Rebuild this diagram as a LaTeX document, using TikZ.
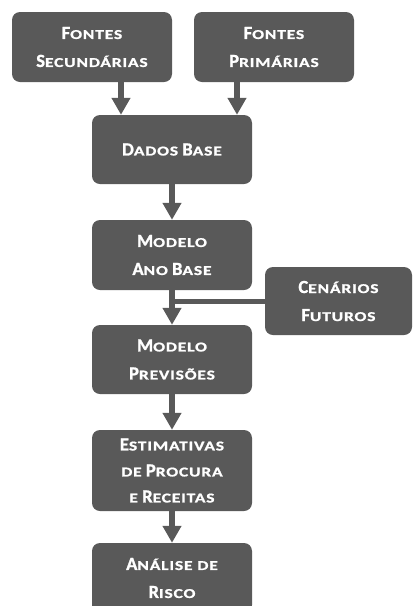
\documentclass[tikz,border=0pt]{standalone}
\usepackage{fontspec}
\setmainfont{Carlito}[BoldFont={Carlito Bold}, BoldFeatures={FakeBold=1.2}]
\newfontfamily\scfont{Carlito}[BoldFont={Carlito Bold}, BoldFeatures={FakeBold=1.2}, FakeStretch=1.3, LetterSpace=6]
\usetikzlibrary{arrows.meta}
\definecolor{boxgray}{HTML}{595959}
\newcommand\SCx[1]{{\scfont\fontsize{13.5}{28}\selectfont #1}}
\tikzset{
  stepbox/.style={draw=none, fill=boxgray, rounded corners=8pt, text=white,
    align=center, inner sep=0pt, minimum width=160pt, minimum height=70pt,
    font=\fontsize{18.5}{28}\selectfont\bfseries},
  arr/.style={draw=boxgray, line width=6pt,
    -{Triangle[length=17pt,width=18pt]}},
  joinline/.style={draw=boxgray, line width=5pt}
}
\begin{document}
\begin{tikzpicture}[x=1pt,y=-1pt]
\useasboundingbox (0,0) rectangle (413,606);
\node[stepbox] (fs) at (92,47) {F\SCx{ONTES}\\S\SCx{ECUNDÁRIAS}};
\node[stepbox] (fp) at (274,47) {F\SCx{ONTES}\\P\SCx{RIMÁRIAS}};
\node[stepbox, minimum height=69pt] (db) at (172,149.5) {D\SCx{ADOS} B\SCx{ASE}};
\node[stepbox] (mab) at (172,255) {M\SCx{ODELO}\\A\SCx{NO} B\SCx{ASE}};
\node[stepbox, minimum width=147pt, minimum height=68pt] (cf) at (338.5,301) {C\SCx{ENÁRIOS}\\F\SCx{UTUROS}};
\node[stepbox, minimum height=69pt] (mp) at (172,359.5) {M\SCx{ODELO}\\P\SCx{REVISÕES}};
\node[stepbox, minimum height=81pt, font=\fontsize{18.5}{26}\selectfont\bfseries] (est) at (172,470.5) {E\SCx{STIMATIVAS}\\\SCx{DE} P\SCx{ROCURA}\\\SCx{E} R\SCx{ECEITAS}};
\node[stepbox] (ar) at (172,578) {A\SCx{NÁLISE DE}\\R\SCx{ISCO}};
\coordinate (ax1) at (121,0);
\coordinate (ax2) at (237,0);
\draw[arr] (fs.south -| ax1) -- (db.north -| ax1);
\draw[arr] (fp.south -| ax2) -- (db.north -| ax2);
\draw[arr] (db) -- (mab);
\draw[arr] (mab) -- (mp);
\draw[joinline] (cf.west) -- (cf.west -| mab.south);
\draw[arr] (mp) -- (est);
\draw[arr] (est) -- (ar);
\end{tikzpicture}
\end{document}
